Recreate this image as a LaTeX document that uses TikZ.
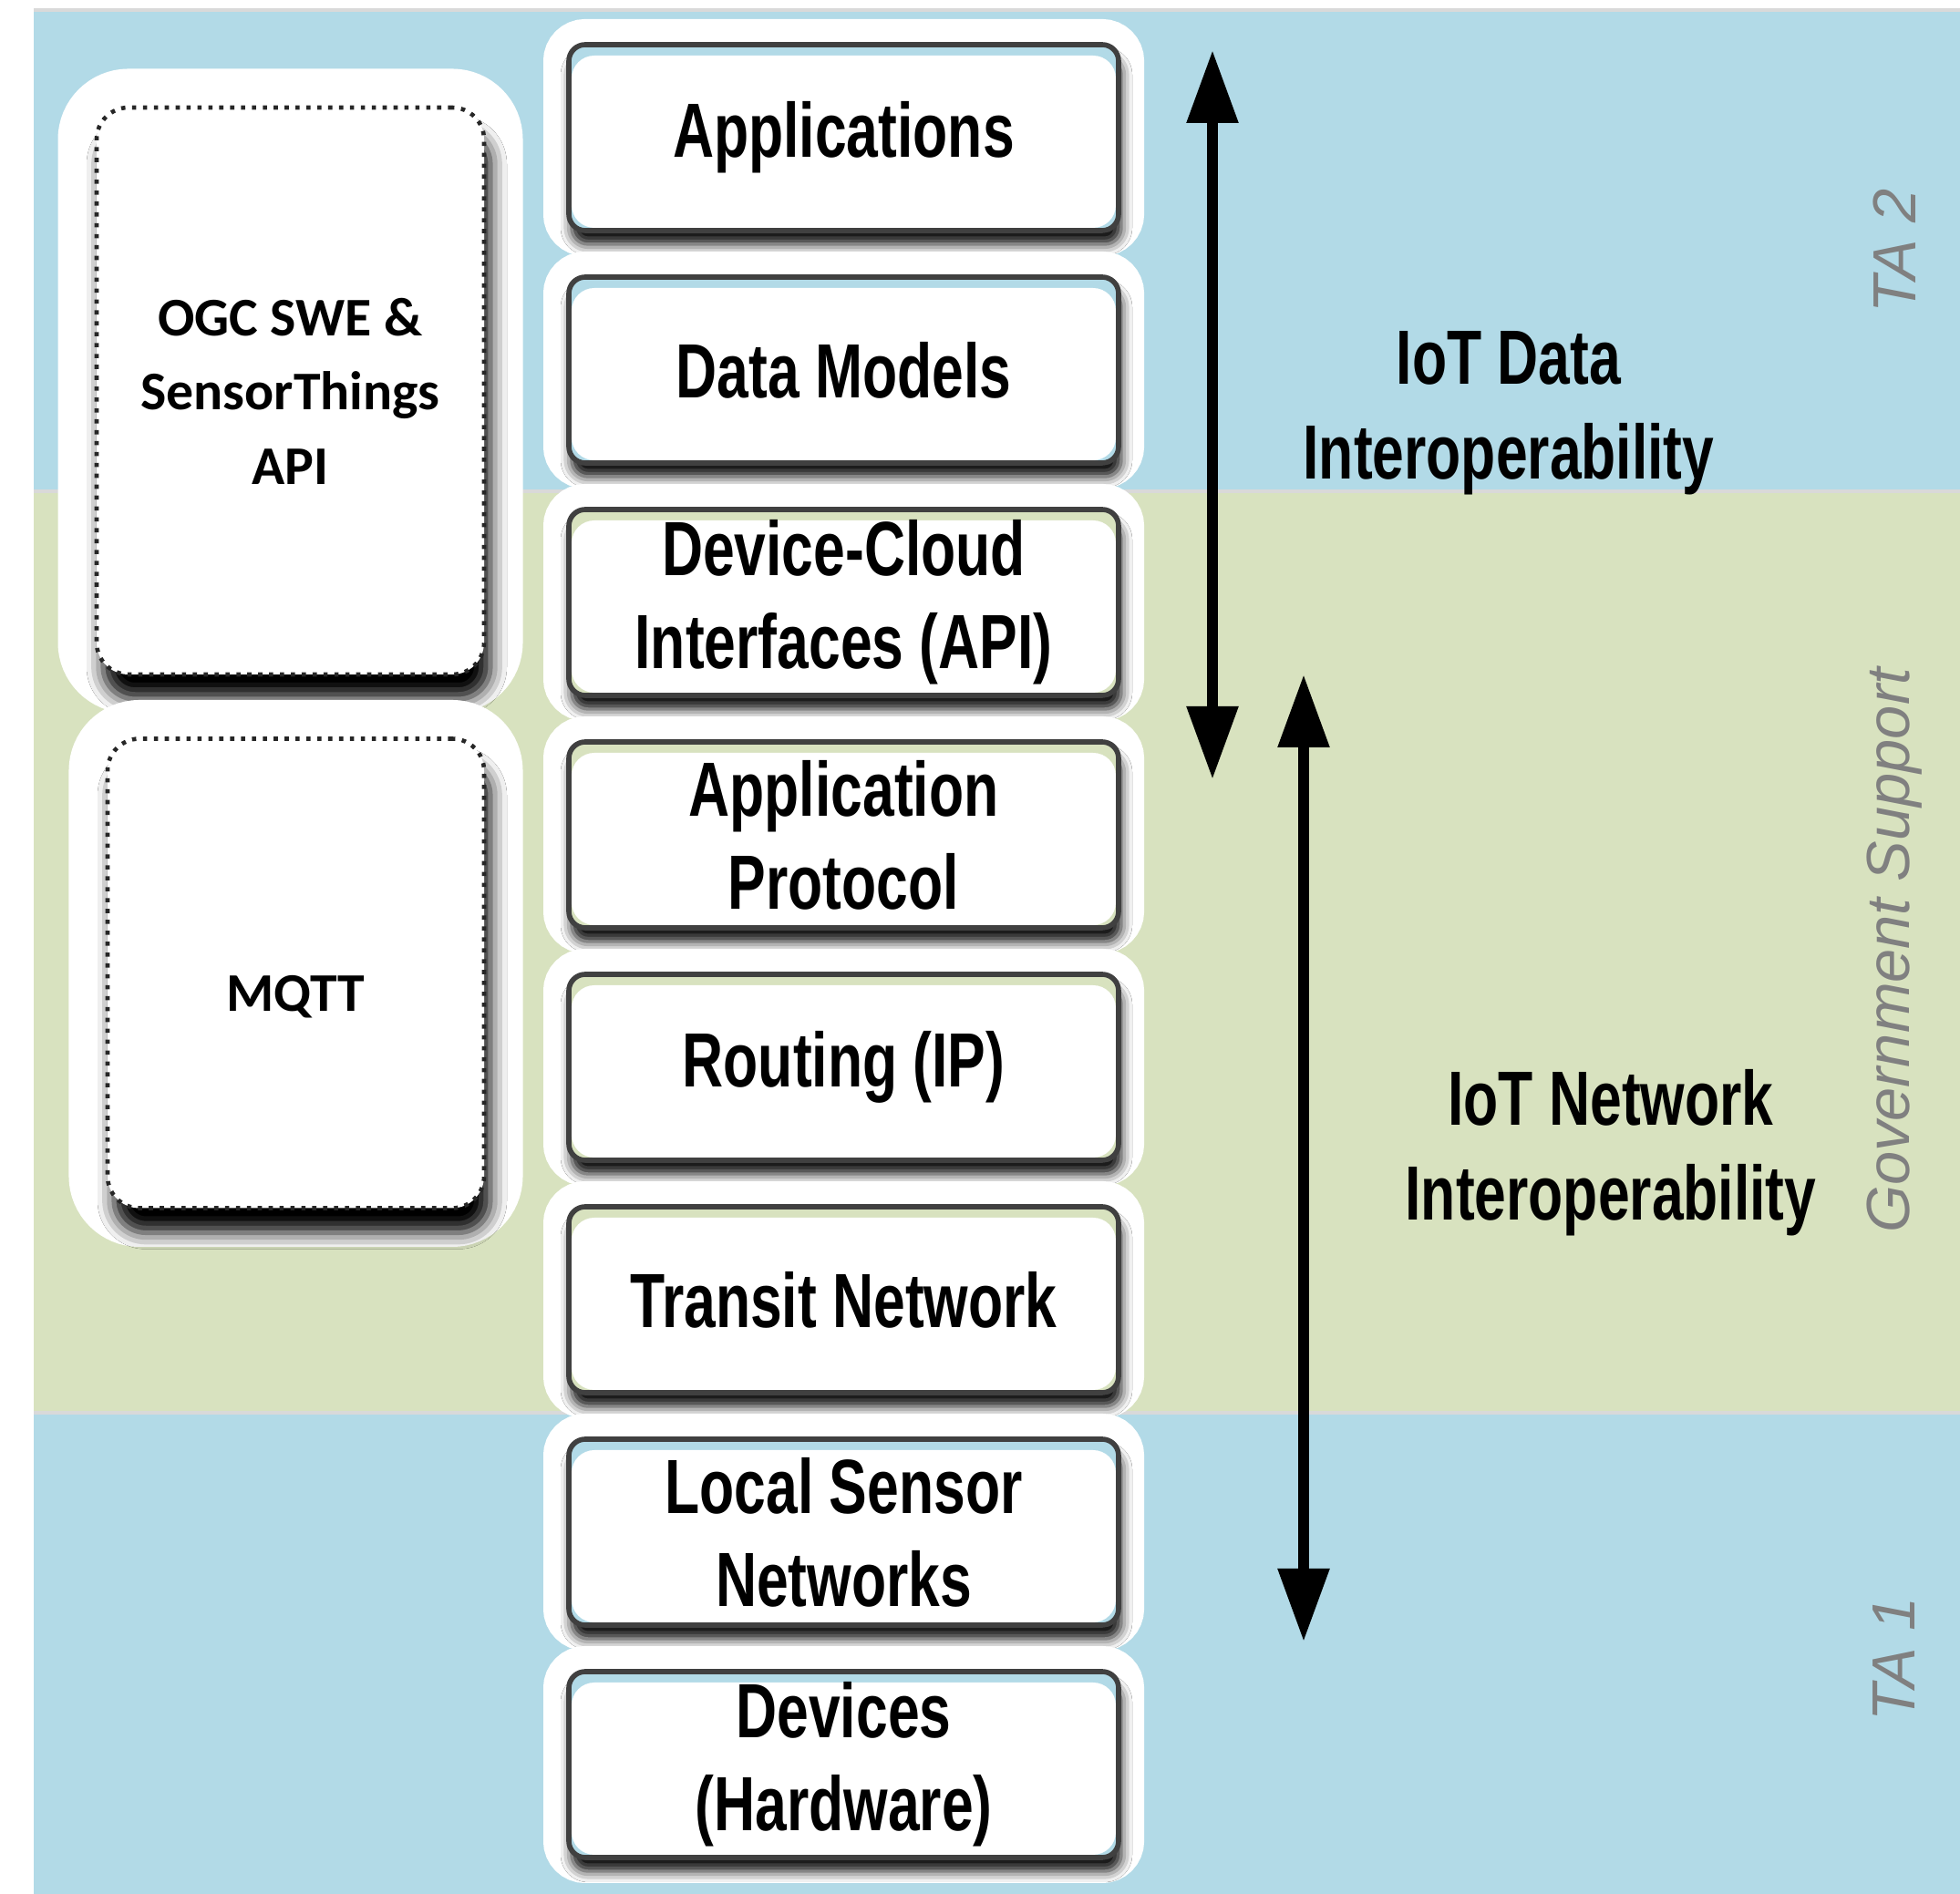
\documentclass[tikz,border=0pt]{standalone}
\usepackage{fontspec}
\setmainfont{Liberation Sans}
\newfontfamily\condfont[FakeStretch=0.74]{Liberation Sans}
\newfontfamily\calfont{Carlito}
\usetikzlibrary{arrows.meta, shadows.blur}
\definecolor{tablue}{RGB}{178, 218, 231}
\definecolor{tagreen}{RGB}{216, 226, 191}
\definecolor{tagray}{RGB}{128, 128, 128}

\begin{document}
\begin{tikzpicture}[
    stackbox/.style={preaction={draw=white, solid, line width=0.56cm},
      blur shadow={shadow xshift=0.03cm, shadow yshift=-0.15cm, shadow blur radius=0.12cm, shadow opacity=95},
      fill=#1, draw=black!75, line width=1.6pt, rounded corners=0.18cm,
      minimum width=6.03cm, minimum height=2.04cm, inner sep=0pt, align=center,
      font=\condfont\bfseries\fontsize{24}{29}\selectfont,
      path picture={\fill[white, rounded corners=0.25cm]
        ([xshift=0.03cm, yshift=-0.12cm]path picture bounding box.north west) rectangle
        ([xshift=-0.03cm, yshift=0.03cm]path picture bounding box.south east);}},
    sidebox/.style={preaction={draw=white, solid, line width=0.85cm},
      blur shadow={shadow xshift=0.07cm, shadow yshift=-0.27cm, shadow blur radius=0.18cm, shadow opacity=100},
      fill=white, draw=black!85, dash pattern=on 1.3pt off 2.1pt, line width=1.3pt, rounded corners=0.35cm,
      inner sep=0pt, align=center, font=\calfont\bfseries\fontsize{17}{23.2}\selectfont},
    iotlabel/.style={align=center, font=\condfont\bfseries\fontsize{24}{29.5}\selectfont},
    talabel/.style={text=tagray, rotate=90, font=\itshape\fontsize{19}{23}\selectfont},
    twoway/.style={line width=0.12cm, {Triangle[width=5.4mm, length=8mm]}-{Triangle[width=5.4mm, length=8mm]}}
  ]
  \useasboundingbox (0,0) rectangle (21.5,20.78);
  \fill[white] (0,0) rectangle (21.5,20.78);

  % bands
  \fill[tablue] (0.37,15.39) rectangle (21.5,20.67);
  \fill[tagreen] (0.37,5.28) rectangle (21.5,15.39);
  \fill[tablue] (0.37,0) rectangle (21.5,5.28);
  \draw[black!15, line width=0.04cm] (0.37,20.67) -- (21.5,20.67);
  \draw[black!15, line width=0.04cm] (0.37,15.39) -- (21.5,15.39);
  \draw[black!15, line width=0.04cm] (0.37,5.28) -- (21.5,5.28);

  % protocol stack
  \foreach \txt/\bg [count=\i] in {Applications/tablue, Data Models/tablue,
      {Device-Cloud\\Interfaces (API)}/tagreen, {Application\\Protocol}/tagreen,
      Routing (IP)/tagreen, Transit Network/tagreen,
      {Local Sensor\\Networks}/tablue, {Devices\\(Hardware)}/tablue} {
    \node[stackbox=\bg] (s\i) at (9.255, {19.27-2.55*(\i-1)}) {\txt};
  }

  % standards
  \node[sidebox, minimum width=4.25cm, minimum height=6.22cm] (ogc) at (3.185,16.49) {OGC SWE \&\\SensorThings\\API};
  \node[sidebox, minimum width=4.13cm, minimum height=5.15cm, text height=0.9cm] (mqtt) at (3.245,10.10) {MQTT};

  % interoperability arrows
  \coordinate (dtop) at (13.30,20.23);
  \coordinate (dbot) at (13.30,12.23);
  \coordinate (ntop) at (14.30,13.38);
  \coordinate (nbot) at (14.30,2.77);
  \draw[twoway] (dtop) -- (dbot);
  \draw[twoway] (ntop) -- (nbot);
  \node[iotlabel] (dlabel) at (16.55,16.25) {IoT Data\\Interoperability};
  \node[iotlabel] (nlabel) at (17.67,8.13) {IoT Network\\Interoperability};

  % side labels
  \node[talabel] (ta2) at (20.78,18.03) {TA 2};
  \node[talabel] (gov) at (20.78,10.35) {Government Support};
  \node[talabel] (ta1) at (20.78,2.58) {TA 1};
\end{tikzpicture}
\end{document}
